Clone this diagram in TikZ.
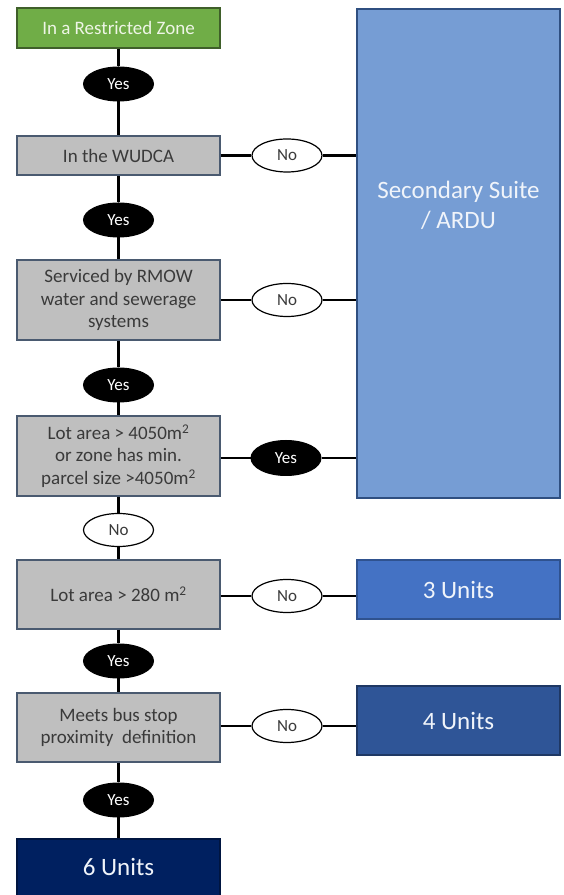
\documentclass[tikz,border=0pt]{standalone}
\usepackage{fontspec}
\setmainfont{Carlito}
\usetikzlibrary{shapes.geometric}
\definecolor{zonegreen}{HTML}{70AD47}
\definecolor{zoneline}{HTML}{3F5F2A}
\definecolor{zonetext}{HTML}{EEF5E6}
\definecolor{boxgray}{HTML}{BFBFBF}
\definecolor{grayline}{HTML}{4A5A70}
\definecolor{textgray}{HTML}{3A3A3A}
\definecolor{suiteblue}{HTML}{769DD4}
\definecolor{suiteline}{HTML}{2F4F80}
\definecolor{threeblue}{HTML}{4472C4}
\definecolor{threeline}{HTML}{2F528F}
\definecolor{fourblue}{HTML}{2F5597}
\definecolor{fourline}{HTML}{1F3864}
\definecolor{sixblue}{HTML}{002060}
\definecolor{sixline}{HTML}{001540}
\definecolor{lighttext}{HTML}{F0F4FA}
\begin{document}
\begin{tikzpicture}[x=1pt,y=1pt,
  qbox/.style={rectangle, draw=grayline, line width=1.2pt, fill=boxgray, minimum width=203pt, inner sep=2pt, align=center, text=textgray, font=\fontsize{19}{22.5}\selectfont},
  ubox/.style={rectangle, line width=1.2pt, minimum width=203pt, inner sep=2pt, align=center, text=lighttext, font=\fontsize{25}{30}\selectfont},
  yesnode/.style={ellipse, draw=black, line width=1pt, fill=black, text=white, minimum width=70pt, minimum height=34pt, inner sep=0pt, font=\fontsize{17}{18}\selectfont},
  nonode/.style={ellipse, draw=black, line width=1.2pt, fill=white, text=textgray, minimum width=70pt, minimum height=33pt, inner sep=0pt, font=\fontsize{17}{18}\selectfont},
  conn/.style={line width=2.5pt, black}]
\fill[white] (0,0) rectangle (563,895);
\useasboundingbox (0,0) rectangle (563,895);

% left column
\node[qbox, draw=zoneline, fill=zonegreen, text=zonetext, minimum height=40pt] (zone) at (118.5,867) {In a Restricted Zone};
\node[yesnode] (y1) at (118.5,811) {Yes};
\node[qbox, minimum height=39pt] (wudca) at (118.5,739.5) {In the WUDCA};
\node[yesnode] (y2) at (118.5,675) {Yes};
\node[qbox, minimum height=80pt] (serv) at (118.5,595) {Serviced by RMOW\\water and sewerage\\systems};
\node[yesnode] (y3) at (118.5,510) {Yes};
\node[qbox, minimum height=80pt] (big) at (118.5,439) {Lot area > 4050m\textsuperscript{2}\\or zone has min.\\parcel size >4050m\textsuperscript{2}};
\node[nonode] (n5) at (118.5,365) {No};
\node[qbox, minimum height=69pt] (small) at (118.5,300.5) {Lot area > 280 m\textsuperscript{2}};
\node[yesnode] (y4) at (118.5,234) {Yes};
\node[qbox, minimum height=69pt] (bus) at (118.5,167.5) {Meets bus stop\\proximity\ \ definition};
\node[yesnode] (y5) at (118.5,95) {Yes};
\node[ubox, draw=sixline, fill=sixblue, minimum height=60pt] (six) at (118.5,26) {};
\node[text=lighttext, font=\fontsize{25}{30}\selectfont] (sixtxt) at (118.5,28) {6 Units};

% right column
\node[ubox, draw=suiteline, fill=suiteblue, minimum height=489pt] (suite) at (458.5,641.5) {};
\node[align=center, text=lighttext, font=\fontsize{25}{30}\selectfont] (suitetxt) at (458.5,690) {Secondary Suite\\/ ARDU};
\node[ubox, draw=threeline, fill=threeblue, minimum height=59pt] (three) at (458.5,305.5) {3 Units};
\node[ubox, draw=fourline, fill=fourblue, minimum height=69pt] (four) at (458.5,174.5) {4 Units};

% horizontal decision ellipses
\node[nonode] (n1) at (287,739.5) {No};
\node[nonode] (n2) at (287,595) {No};
\node[yesnode, minimum height=35pt] (y6) at (286,437) {Yes};
\node[nonode] (n3) at (287,299) {No};
\node[nonode] (n4) at (287,169) {No};

% vertical connectors
\draw[conn] (zone) -- (y1) -- (wudca) -- (y2) -- (serv) -- (y3) -- (big) -- (n5) -- (small) -- (y4) -- (bus) -- (y5) -- (six);

% horizontal connectors
\draw[conn] (wudca) -- (n1) -- (n1 -| suite.west);
\draw[conn] (serv) -- (n2) -- (n2 -| suite.west);
\draw[conn] (big.east |- y6) -- (y6) -- (y6 -| suite.west);
\draw[conn] (small.east |- n3) -- (n3) -- (n3 -| three.west);
\draw[conn] (bus.east |- n4) -- (n4) -- (n4 -| four.west);
\end{tikzpicture}
\end{document}
